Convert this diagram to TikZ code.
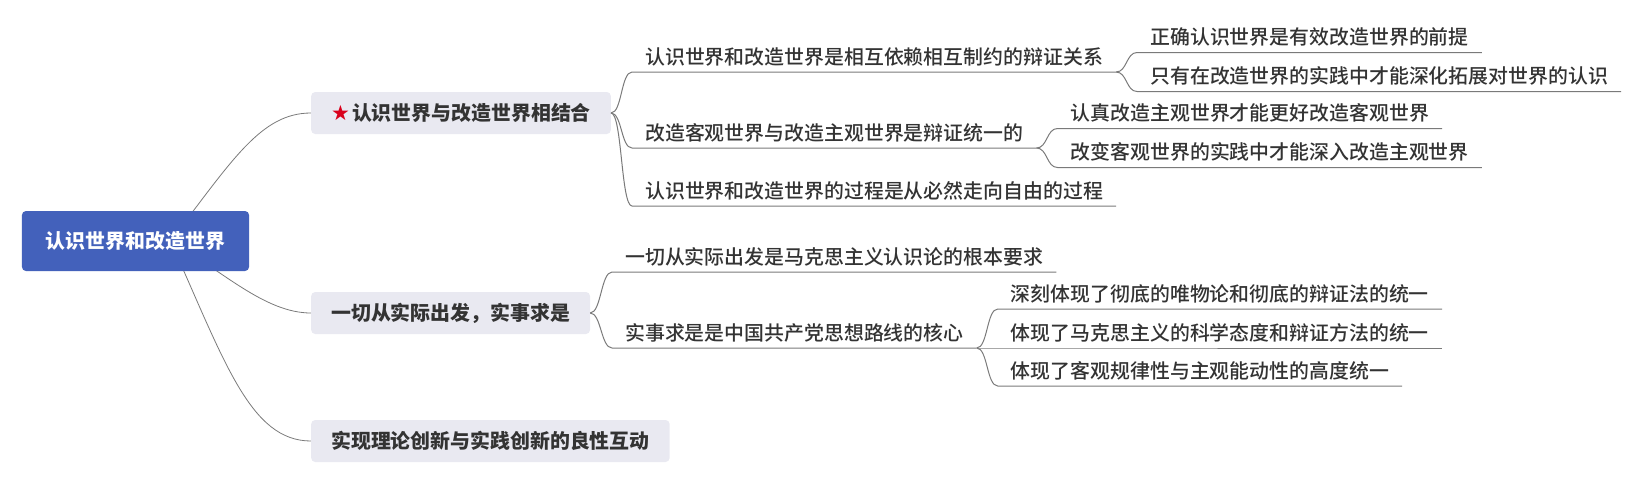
\documentclass[tikz,border=0pt]{standalone}
\usepackage{fontspec}
\usetikzlibrary{backgrounds}
\newfontfamily\cjk{Noto Sans CJK SC}
\newfontfamily\cjkm{Noto Sans CJK SC Medium}
\newfontfamily\symb{DejaVu Sans}
\definecolor{bleu}{HTML}{4361BB}
\definecolor{fond}{HTML}{E9E9F1}
\definecolor{encre}{HTML}{333333}
\definecolor{gris}{HTML}{7A7A7A}
\definecolor{rouge}{HTML}{D9001B}
\newcommand{\etoile}[0]{\raisebox{0pt}{\symb\color{rouge}\fontsize{21}{21}\selectfont ★}\hspace{2pt}}
\newcommand{\lien}[2]{\draw[trait] (#1) .. controls +(11,0) and +(-11,0) .. (#2.south west) -- (#2.south east)}

\begin{document}
\begin{tikzpicture}[x=1pt,y=-1pt,
	racine/.style={fill=bleu,rounded corners=4pt,text=white,font=\cjk\bfseries\fontsize{19.9}{24}\selectfont,minimum height=60pt,inner xsep=24pt,text height=15pt,text depth=1pt},
	branche/.style={fill=fond,rounded corners=4pt,text=encre,font=\cjk\bfseries\fontsize{19.9}{24}\selectfont,minimum height=42pt,inner xsep=20pt,anchor=west,text height=15pt,text depth=1pt},
	feuille/.style={text=encre,font=\cjkm\fontsize{19.9}{24}\selectfont,anchor=south west,inner xsep=13pt,inner ysep=7.5pt,text height=15pt,text depth=0pt},
	courbe/.style={draw=gris,line width=0.8pt},
	trait/.style={draw=gris,line width=1pt}]
	\useasboundingbox (0,0) rectangle (1641,483);
%Centre
	\node[racine] (centre) at (135.5,241) {认识世界和改造世界};
%Branches
	\node[branche] (b1) at (311,113) {\etoile 认识世界与改造世界相结合};
	\node[branche] (b2) at (311,313) {一切从实际出发，实事求是};
	\node[branche] (b3) at (311,441) {实现理论创新与实践创新的良性互动};
%The first branch
	\node[feuille] (c1) at (632,72) {认识世界和改造世界是相互依赖相互制约的辩证关系};
	\node[feuille] (c2) at (632,148) {改造客观世界与改造主观世界是辩证统一的};
	\node[feuille] (c3) at (632,206) {认识世界和改造世界的过程是从必然走向自由的过程};
	\node[feuille] (c11) at ([shift={(21,-19.5)}]c1.south east) {正确认识世界是有效改造世界的前提};
	\node[feuille] (c12) at ([shift={(21,19.5)}]c1.south east) {只有在改造世界的实践中才能深化拓展对世界的认识};
	\node[feuille] (c21) at ([shift={(21,-19.5)}]c2.south east) {认真改造主观世界才能更好改造客观世界};
	\node[feuille] (c22) at ([shift={(21,19.5)}]c2.south east) {改变客观世界的实践中才能深入改造主观世界};
%The second branch
	\node[feuille] (d1) at (612,272) {一切从实际出发是马克思主义认识论的根本要求};
	\node[feuille] (d2) at (612,348) {实事求是是中国共产党思想路线的核心};
	\node[feuille] (d21) at ([shift={(21,-39)}]d2.south east) {深刻体现了彻底的唯物论和彻底的辩证法的统一};
	\node[feuille] (d22) at ([shift={(21,0)}]d2.south east) {体现了马克思主义的科学态度和辩证方法的统一};
	\node[feuille] (d23) at ([shift={(21,38)}]d2.south east) {体现了客观规律性与主观能动性的高度统一};
%Curves from the centre
	\begin{scope}[on background layer]
	\draw[courbe] ([shift={(35,0)}]centre.center) .. controls +(62,-81) and +(-50,0) .. (b1.west);
	\draw[courbe] ([shift={(35,0)}]centre.center) .. controls +(52,30) and +(-46,0) .. (b2.west);
	\draw[courbe] ([shift={(35,0)}]centre.center) .. controls +(54,120) and +(-61,0) .. (b3.west);
	\end{scope}
%Brackets and underlines
	\lien{b1.east}{c1};
	\lien{b1.east}{c2};
	\lien{b1.east}{c3};
	\lien{c1.south east}{c11};
	\lien{c1.south east}{c12};
	\lien{c2.south east}{c21};
	\lien{c2.south east}{c22};
	\lien{b2.east}{d1};
	\lien{b2.east}{d2};
	\lien{d2.south east}{d21};
	\lien{d2.south east}{d22};
	\lien{d2.south east}{d23};
\end{tikzpicture}
\end{document}
